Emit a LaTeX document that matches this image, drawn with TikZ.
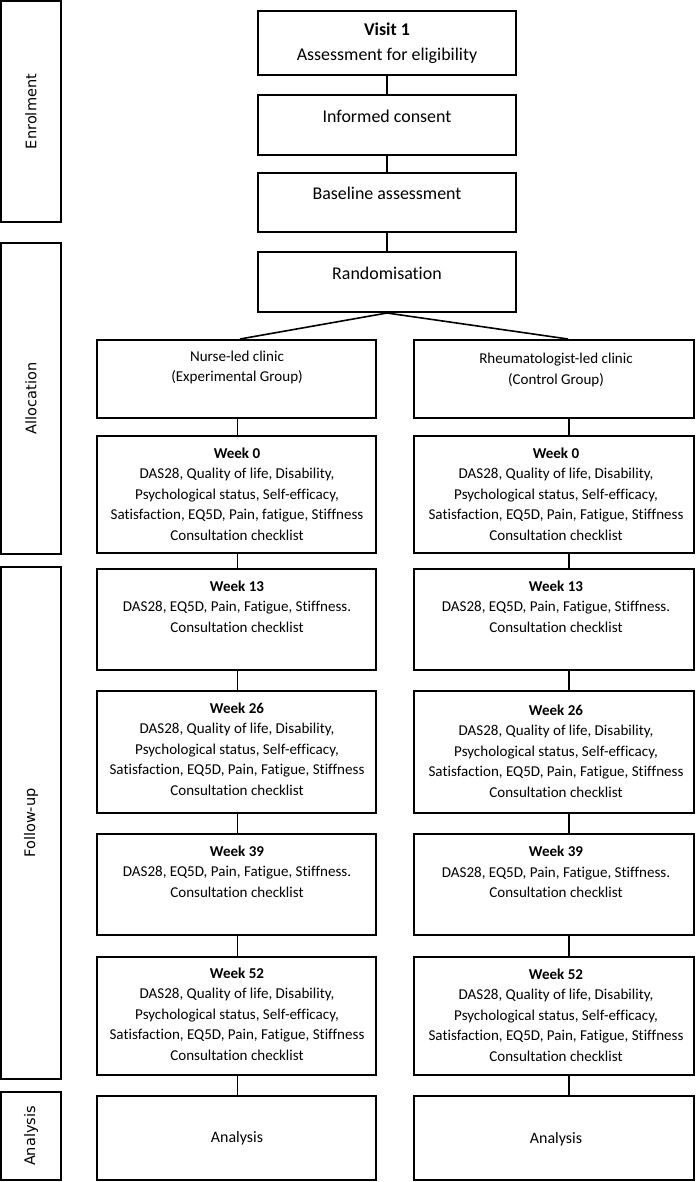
\documentclass[tikz,border=0pt]{standalone}
\usepackage{fontspec}
\setmainfont{Carlito}[Ligatures=NoCommon]
\newfontfamily\sidefont{DejaVu Sans}
\usepackage{tikz}

\begin{document}
\begin{tikzpicture}[x=1bp, y=-1bp,
box/.style={draw, line width=2bp, inner sep=0pt},
txt/.style={align=center, inner sep=0pt, font=\fontsize{15.1}{20.5}\selectfont},
toptxt/.style={align=center, inner sep=0pt, font=\fontsize{18}{25}\selectfont},
phase/.style={draw, line width=2bp, rotate=90, minimum height=60bp, inner sep=0pt,
  font=\sidefont\fontsize{14.6}{17}\selectfont},
link/.style={line width=1.6bp},
]
  \useasboundingbox (0,0) rectangle (699,1182);

  \def\longlist{DAS28, Quality of life, Disability,\\Psychological status, Self-efficacy,\\Satisfaction, EQ5D, Pain, Fatigue, Stiffness\\Consultation checklist}
  \def\shortlist{DAS28, EQ5D, Pain, Fatigue, Stiffness.\\Consultation checklist}

  % phases down the left side
  \node[phase, minimum width=221bp] (enrol) at (31,111.5) {Enrolment};
  \node[phase, minimum width=311bp] (alloc) at (31,398.5) {Allocation};
  \node[phase, minimum width=512bp] (follow) at (31,823) {Follow-up};
  \node[phase, minimum width=88bp] (anal) at (31,1136) {Analysis};

  % centre column
  \foreach \n/\top/\bot in {visit/11/75, consent/95/155, base/173/232, rand/252/312} {
    \pgfmathsetmacro\h{\bot-\top}
    \node[box, minimum width=258bp, minimum height=\h bp] (\n) at (387,{(\top+\bot)/2}) {};
  }
  \node[toptxt] (visitt) at (387,43.5) {\textbf{Visit 1}\\Assessment for eligibility};
  \node[toptxt] (consentt) at (387,116) {Informed consent};
  \node[toptxt] (baset) at (387,193) {Baseline assessment};
  \node[toptxt] (randt) at (387,273) {Randomisation};

  \foreach \u/\v in {visit/consent, consent/base, base/rand}
    \draw[link] (\u) -- (\v);

  % two arms
  \foreach \n/\top/\bot in {grp/340/418, w0/436/553, w13/569/670, w26/691/813,
                            w39/834/935, w52/957/1075, an/1096/1180} {
    \pgfmathsetmacro\h{\bot-\top}
    \node[box, minimum width=279bp, minimum height=\h bp] (L\n) at (236.5,{(\top+\bot)/2}) {};
    \node[box, minimum width=280bp, minimum height=\h bp] (R\n) at (554,{(\top+\bot)/2}) {};
  }

  \draw[link] (rand.south) -- ([xshift=3.5bp]Lgrp.north);
  \draw[link] (rand.south) -- ([xshift=14bp]Rgrp.north);

  \foreach \u/\v in {grp/w0, w0/w13, w13/w26, w26/w39, w39/w52, w52/an} {
    \draw[link] ([xshift=1bp]L\u.south) -- ([xshift=1bp]L\u.south |- L\v.north);
    \draw[link] ([xshift=15bp]R\u.south) -- ([xshift=15bp]R\u.south |- R\v.north);
  }

  % experimental arm
  \node[txt] (Lgrpt) at (237,367.5) {Nurse-led clinic\\(Experimental Group)};
  \node[txt] (Lw0t) at (237,494) {\textbf{Week 0}\\DAS28, Quality of life, Disability,\\Psychological status, Self-efficacy,\\Satisfaction, EQ5D, Pain, fatigue, Stiffness\\Consultation checklist};
  \node[txt] (Lw13t) at (237,606.5) {\textbf{Week 13}\\\shortlist};
  \node[txt] (Lw26t) at (237,749) {\textbf{Week 26}\\\longlist};
  \node[txt] (Lw39t) at (237,871.5) {\textbf{Week 39}\\\shortlist};
  \node[txt] (Lw52t) at (237,1014) {\textbf{Week 52}\\\longlist};
  \node[txt, font=\fontsize{16}{20}\selectfont] (Lant) at (237,1138) {Analysis};

  % control arm
  \node[txt] (Rgrpt) at (556,370) {Rheumatologist-led clinic\\(Control Group)};
  \node[txt] (Rw0t) at (556,494) {\textbf{Week 0}\\\longlist};
  \node[txt] (Rw13t) at (556,606.5) {\textbf{Week 13}\\\shortlist};
  \node[txt] (Rw26t) at (556,751) {\textbf{Week 26}\\\longlist};
  \node[txt] (Rw39t) at (556,872) {\textbf{Week 39}\\\shortlist};
  \node[txt] (Rw52t) at (556,1015) {\textbf{Week 52}\\\longlist};
  \node[txt, font=\fontsize{16}{20}\selectfont] (Rant) at (556,1139) {Analysis};

\end{tikzpicture}
\end{document}
